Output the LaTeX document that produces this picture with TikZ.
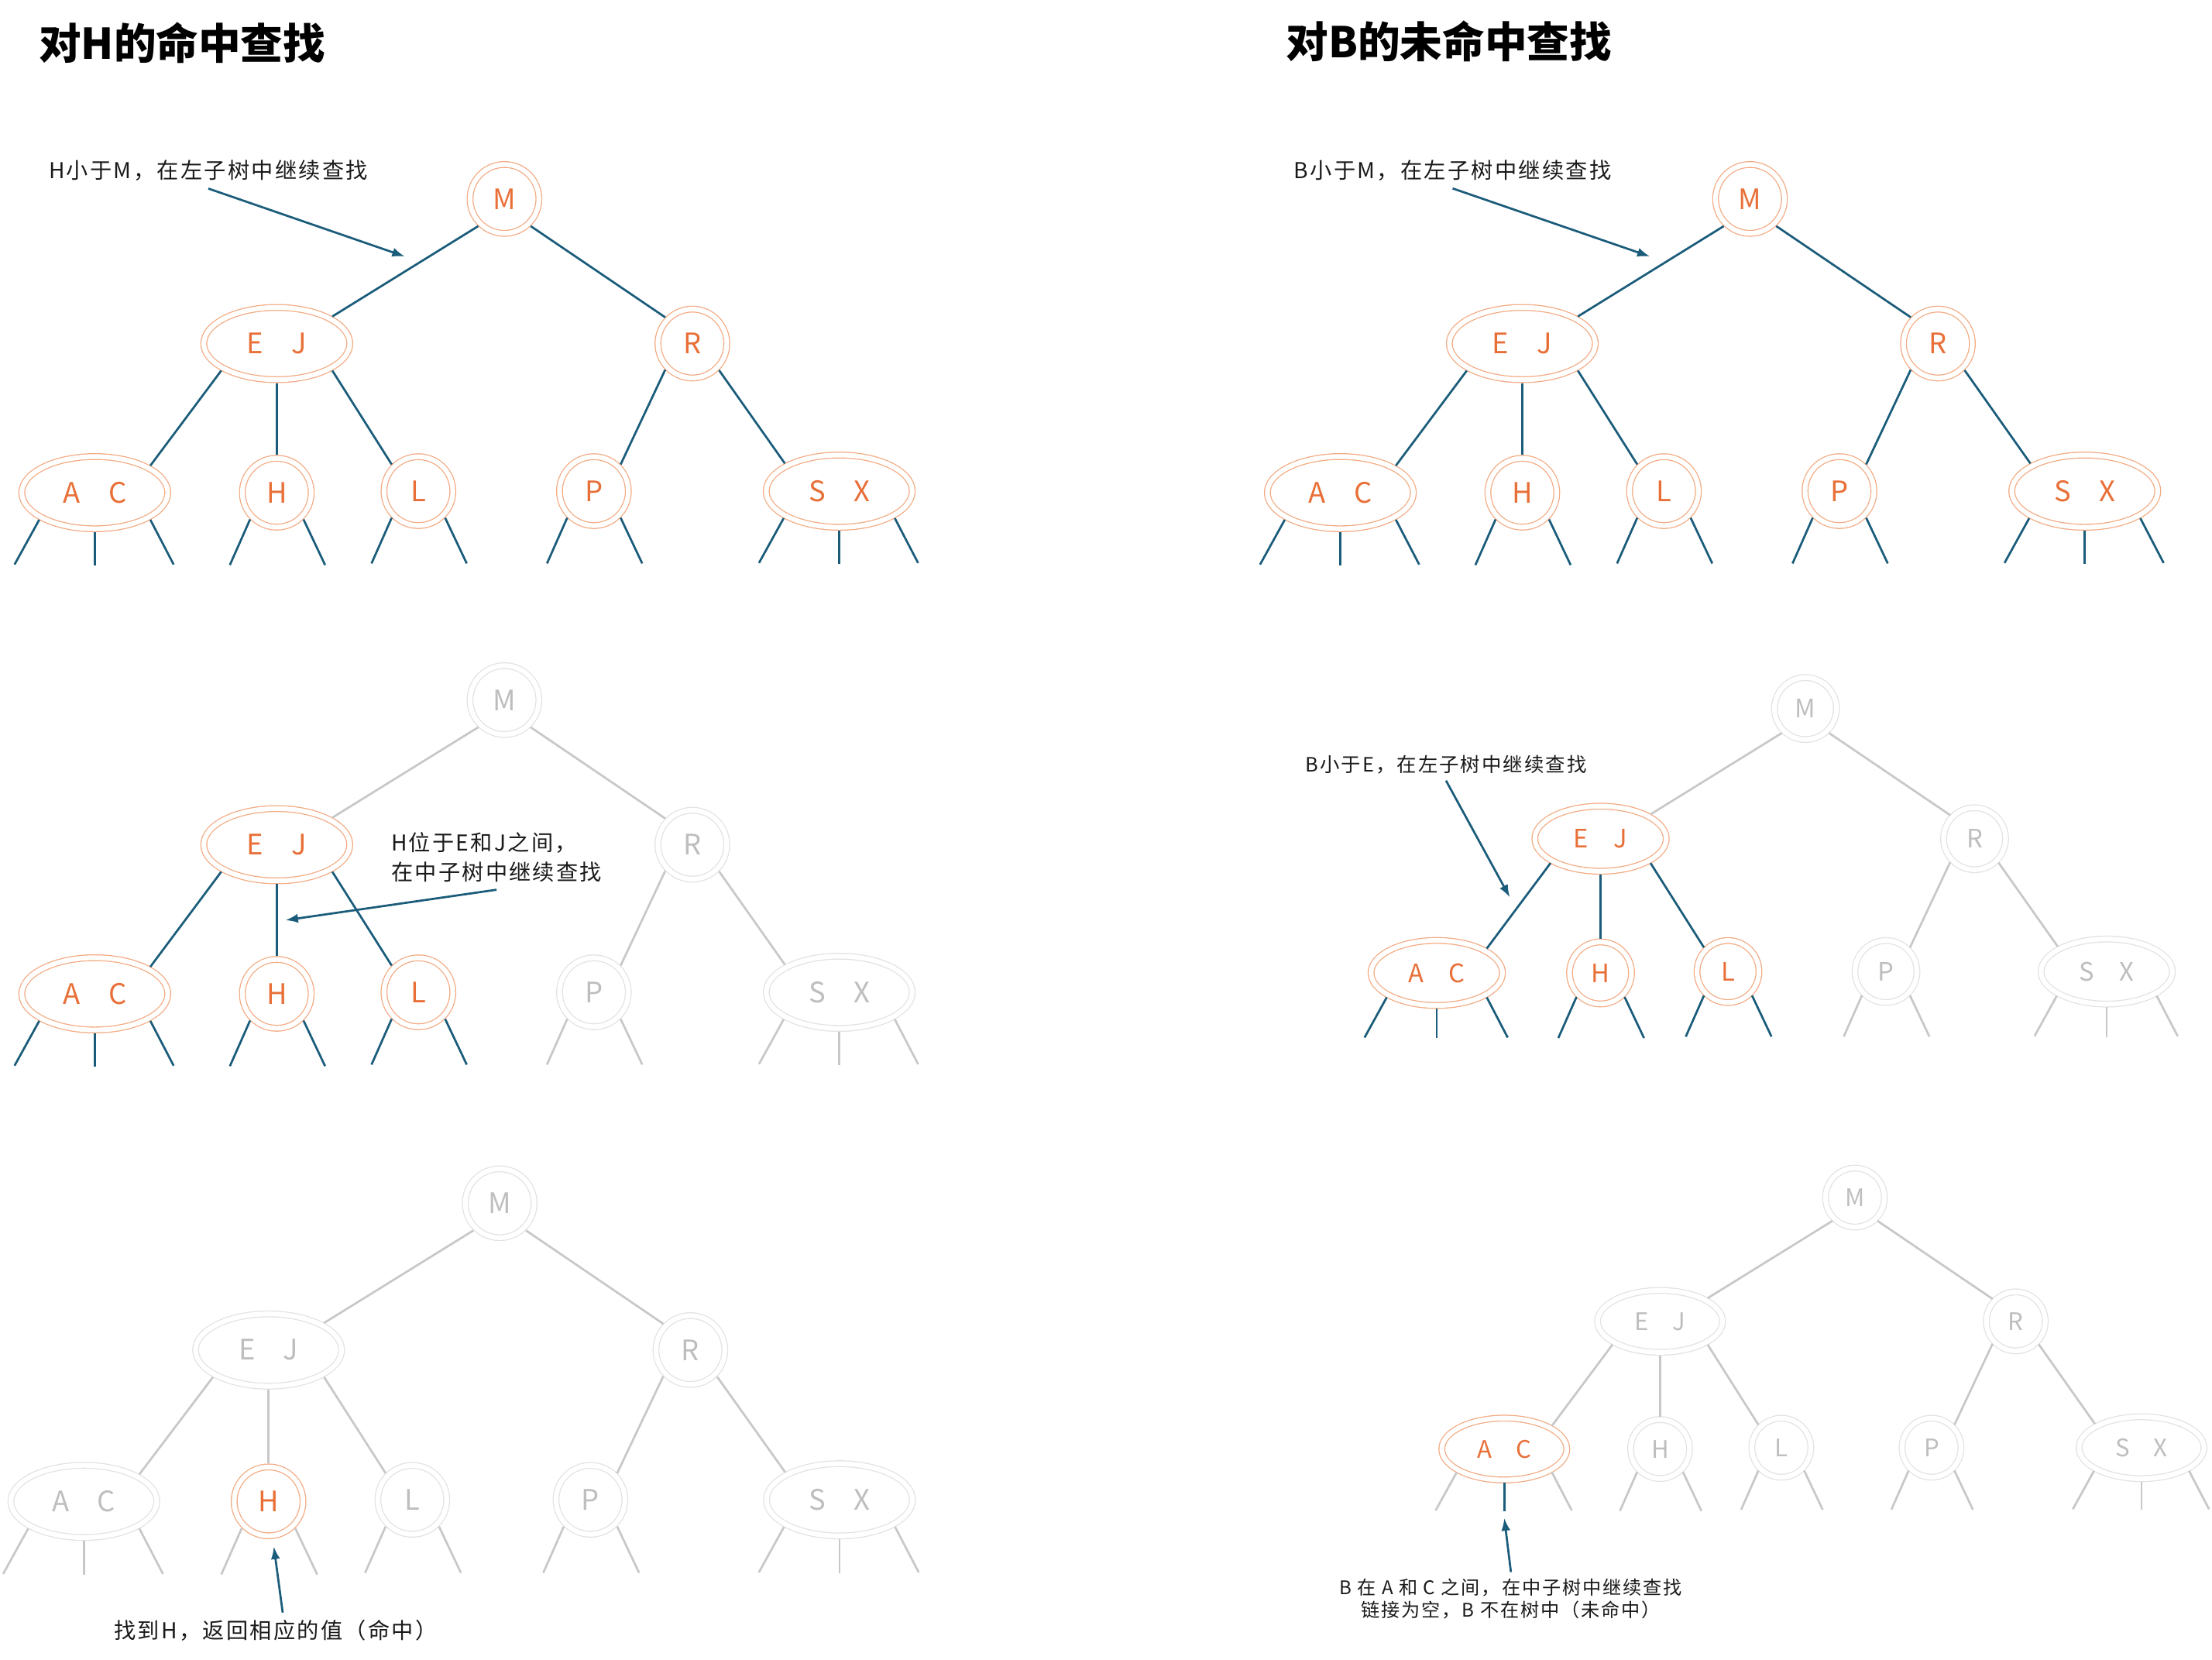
\documentclass[tikz,border=0pt]{standalone}
\usepackage{fontspec}
\setmainfont{Noto Sans CJK SC}
\newfontfamily\notefont{Noto Sans CJK SC}[LetterSpace=8]
\newfontfamily\titlefont{Noto Sans CJK SC}
\usetikzlibrary{shapes.geometric,arrows.meta}

\definecolor{hottext}{RGB}{232,112,56}
\definecolor{hotline}{RGB}{242,170,130}
\definecolor{coldtext}{RGB}{190,190,190}
\definecolor{coldline}{RGB}{226,226,226}
\definecolor{linkgrey}{RGB}{200,200,200}
\definecolor{litblue}{RGB}{26,92,122}
\definecolor{notetext}{RGB}{26,26,26}

\newcommand{\searchtree}[1]{
	\node[twonode,nM] (#1M) at (0,0) {M};
	\node[threenode,nEJ] (#1EJ) at (-161.4,-102.5) {E\quad J};
	\node[twonode,nR] (#1R) at (133.2,-102.5) {R};
	\node[threenode,nAC] (#1AC) at (-290.4,-208.2) {A\quad C};
	\node[twonode,nH] (#1H) at (-161.4,-208.2) {H};
	\node[twonode,nL] (#1L) at (-61,-207.1) {L};
	\node[twonode,nP] (#1P) at (63.4,-207.1) {P};
	\node[threenode,nSX] (#1SX) at (237.3,-207.1) {S\quad X};
	\draw[eEJ] (#1M.226) -- (#1EJ.26);
	\draw[eR] (#1M.314) -- (#1R.136);
	\draw[eAC] (#1EJ.206) -- (#1AC.26);
	\draw[eH] (#1EJ.south) -- (#1H.north);
	\draw[eL] (#1EJ.334) -- (#1L.135);
	\draw[eP] (#1R.224) -- (#1P.45);
	\draw[eSX] (#1R.315) -- (#1SX.153);
	\draw[sAC,sACmid] (#1AC.south) -- +(0,-23.5);
	\draw[sSX] (#1SX.south) -- +(0,-23.5);
	\foreach \n/\st in {#1AC/sAC,#1SX/sSX} {
		\draw[\st] (\n.206) -- +(-17.5,-31.7);
		\draw[\st] (\n.334) -- +(16.5,-31.7);
	}
	\foreach \n/\st in {#1H/sH,#1L/sL,#1P/sP} {
		\draw[\st] (\n.225) -- +(-14.3,-32.3);
		\draw[\st] (\n.315) -- +(15.3,-32.3);
	}
}

\begin{document}
\begin{tikzpicture}[x=1pt,y=1pt,
		ring/.style={double,double distance=3.4pt,line width=0.7pt,inner sep=0pt,
			outer sep=2.4pt,font=\fontsize{20}{24}\selectfont},
		cold/.style={ring,draw=coldline,text=coldtext},
		hot/.style={ring,draw=hotline,text=hottext},
		twonode/.style={circle,minimum size=48.8pt},
		threenode/.style={ellipse,minimum width=103.5pt,minimum height=51.2pt},
		wire/.style={line width=1.5pt},
		link/.style={wire,draw=linkgrey},
		lit/.style={wire,draw=litblue},
		pointer/.style={lit,-{Latex[length=9pt,width=6.5pt]}},
		note/.style={font=\notefont\fontsize{15.5}{21}\selectfont,text=notetext,inner sep=5pt},
		title/.style={font=\titlefont\bfseries\fontsize{30}{36}\selectfont,inner sep=0pt,anchor=west},
		nM/.style=cold, nEJ/.style=cold, nR/.style=cold, nAC/.style=cold,
		nH/.style=cold, nL/.style=cold, nP/.style=cold, nSX/.style=cold,
		eEJ/.style=link, eR/.style=link, eAC/.style=link, eH/.style=link,
		eL/.style=link, eP/.style=link, eSX/.style=link,
		sAC/.style=link, sH/.style=link, sL/.style=link, sP/.style=link,
		sSX/.style=link, sACmid/.style={},
		allhot/.style={cold/.style=hot,link/.style=lit},
		lefthot/.style={nEJ/.style=hot,nAC/.style=hot,nH/.style=hot,nL/.style=hot,
			eAC/.style=lit,eH/.style=lit,eL/.style=lit,
			sAC/.style=lit,sH/.style=lit,sL/.style=lit},
	]
	\useasboundingbox (0,0) rectangle (1568,-1176.5);

	\node[title] (hittitle) at (27.3,-30.6) {对H的命中查找};
	\node[title] (misstitle) at (911.5,-29.3) {对B的未命中查找};

	\begin{scope}[shift={(357.6,-141)},allhot]
		\searchtree{a}
		\node[note] (anote) at (-209.9,19.9) {H小于M，在左子树中继续查找};
		\coordinate (atip) at (-70.6,-40.8);
		\draw[pointer] (anote.south) -- (atip);
	\end{scope}

	\begin{scope}[shift={(357.6,-496.2)},lefthot]
		\searchtree{b}
		\node[note,align=left] (bnote) at (-5.6,-111.5) {H位于E和J之间，\\在中子树中继续查找};
		\coordinate (btip) at (-155.3,-156);
		\draw[pointer] (bnote.south) -- (btip);
	\end{scope}

	\begin{scope}[shift={(354.2,-852.8)},scale=1.015,nH/.style=hot]
		\searchtree{c}
		\node[note] (cnote) at (-156.5,-298.3) {找到H，返回相应的值（命中）};
		\coordinate (ctip) at (-157.7,-239.6);
		\draw[pointer] ([xshift=5pt]cnote.north) -- (ctip);
	\end{scope}

	\begin{scope}[shift={(1240.5,-141)},allhot]
		\searchtree{d}
		\node[note] (dnote) at (-210.8,20) {B小于M，在左子树中继续查找};
		\coordinate (dtip) at (-70.9,-40.8);
		\draw[pointer] (dnote.south) -- (dtip);
	\end{scope}

	\begin{scope}[shift={(1279.8,-502.2)},scale=0.9,transform shape,lefthot]
		\searchtree{e}
		\node[note] (enote) at (-283.1,-44.2) {B小于E，在左子树中继续查找};
		\coordinate (etip) at (-232.8,-148.7);
		\draw[pointer] (enote.south) -- (etip);
	\end{scope}

	\begin{scope}[shift={(1314.9,-848.8)},scale=0.856,transform shape,
			nAC/.style=hot,sACmid/.style=lit]
		\searchtree{f}
		\node[note,align=center,font=\notefont\fontsize{15.5}{18.7}\selectfont] (fnote)
			at (-284.9,-332) {B 在 A 和 C 之间，在中子树中继续查找\\链接为空，B 不在树中（未命中）};
		\coordinate (ftip) at (-290.4,-265.3);
		\draw[pointer] (fnote.north) -- (ftip);
	\end{scope}
\end{tikzpicture}
\end{document}
